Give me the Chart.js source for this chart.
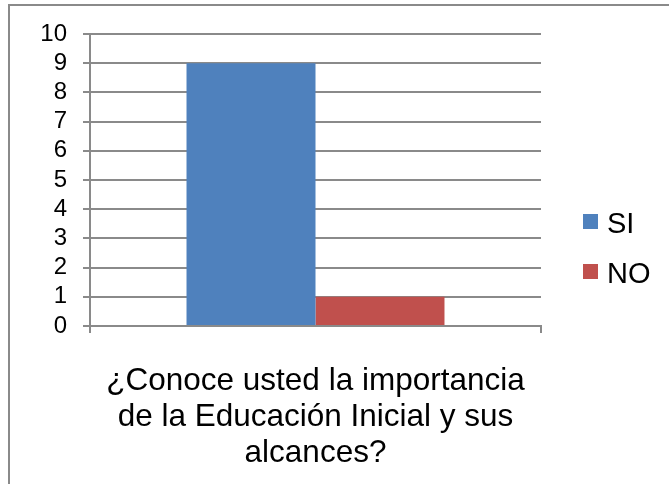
<!DOCTYPE html>
<html>
<head>
    <meta charset="UTF-8">
    <title>Educación Inicial</title>
    <script src="https://cdn.jsdelivr.net/npm/chart.js"></script>
    <style>
        body {
            margin: 0;
            background-color: #fff;
            font-family: "Liberation Sans", Arial, sans-serif;
        }
        .frame {
            position: relative;
            width: 669px;
            height: 484px;
            overflow: hidden;
        }
        .border {
            position: absolute;
            left: 8px;
            top: 4px;
            width: 700px;
            height: 520px;
            border-left: 2px solid #8a8a8a;
            border-top: 2px solid #8a8a8a;
        }
        canvas {
            position: absolute;
            left: 0;
            top: 0;
        }
        .legend-item {
            position: absolute;
            left: 583px;
            height: 30px;
            font-size: 29px;
            line-height: 30px;
            color: #000;
            white-space: nowrap;
        }
        .legend-item .box {
            position: absolute;
            left: 0;
            top: 6px;
            width: 15px;
            height: 15px;
        }
        .legend-item .txt {
            position: absolute;
            left: 24px;
            top: 0;
        }
    </style>
</head>
<body>
    <div class="frame">
        <div class="border"></div>
        <canvas id="chart" width="669" height="484"></canvas>
        <div id="legend"></div>
    </div>

    <script>
        // Datos
        const categories = [['¿Conoce usted la importancia', 'de la Educación Inicial y sus', 'alcances?']];
        const seriesNames = ['SI', 'NO'];
        const siValues = [9];
        const noValues = [1];
        const seriesColors = ['#4F81BD', '#C0504D'];
        const yMin = 0;
        const yMax = 10;
        const yStep = 1;

        const FONT = '"Liberation Sans", Arial, sans-serif';
        const GRID = '#8a8a8a';

        new Chart(document.getElementById('chart'), {
            type: 'bar',
            data: {
                labels: categories,
                datasets: [
                    {
                        label: seriesNames[0],
                        data: siValues,
                        backgroundColor: seriesColors[0],
                        borderWidth: 0
                    },
                    {
                        label: seriesNames[1],
                        data: noValues,
                        backgroundColor: seriesColors[1],
                        borderWidth: 0
                    }
                ]
            },
            options: {
                responsive: false,
                animation: false,
                categoryPercentage: 0.572,
                barPercentage: 1.0,
                layout: {
                    padding: { left: 0, top: 34, right: 128, bottom: 0 }
                },
                scales: {
                    x: {
                        offset: true,
                        grid: {
                            offset: true,
                            drawOnChartArea: false,
                            drawTicks: true,
                            tickLength: 7,
                            color: GRID,
                            lineWidth: 2
                        },
                        border: { display: true, color: GRID, width: 2 },
                        ticks: {
                            color: '#000',
                            padding: 30,
                            maxRotation: 0,
                            font: { family: FONT, size: 31.5, lineHeight: 1.143 }
                        },
                        afterFit: function(scale) {
                            scale.height = 158;
                        }
                    },
                    y: {
                        min: yMin,
                        max: yMax,
                        grid: {
                            color: GRID,
                            lineWidth: 2,
                            drawTicks: true,
                            tickLength: 7
                        },
                        border: { display: true, color: GRID, width: 2 },
                        ticks: {
                            stepSize: yStep,
                            autoSkip: false,
                            color: '#000',
                            padding: 16,
                            font: { family: FONT, size: 24 }
                        },
                        afterFit: function(scale) {
                            scale.width = 90;
                        }
                    }
                },
                plugins: {
                    legend: { display: false },
                    tooltip: { enabled: false }
                }
            }
        });

        // Leyenda a la derecha, como en Excel
        const legend = document.getElementById('legend');
        seriesNames.forEach(function(name, i) {
            const item = document.createElement('div');
            item.className = 'legend-item';
            item.style.top = (208 + i * 50) + 'px';
            item.innerHTML = '<span class="box" style="background:' + seriesColors[i] + '"></span>' +
                '<span class="txt">' + name + '</span>';
            legend.appendChild(item);
        });
    </script>
</body>
</html>
